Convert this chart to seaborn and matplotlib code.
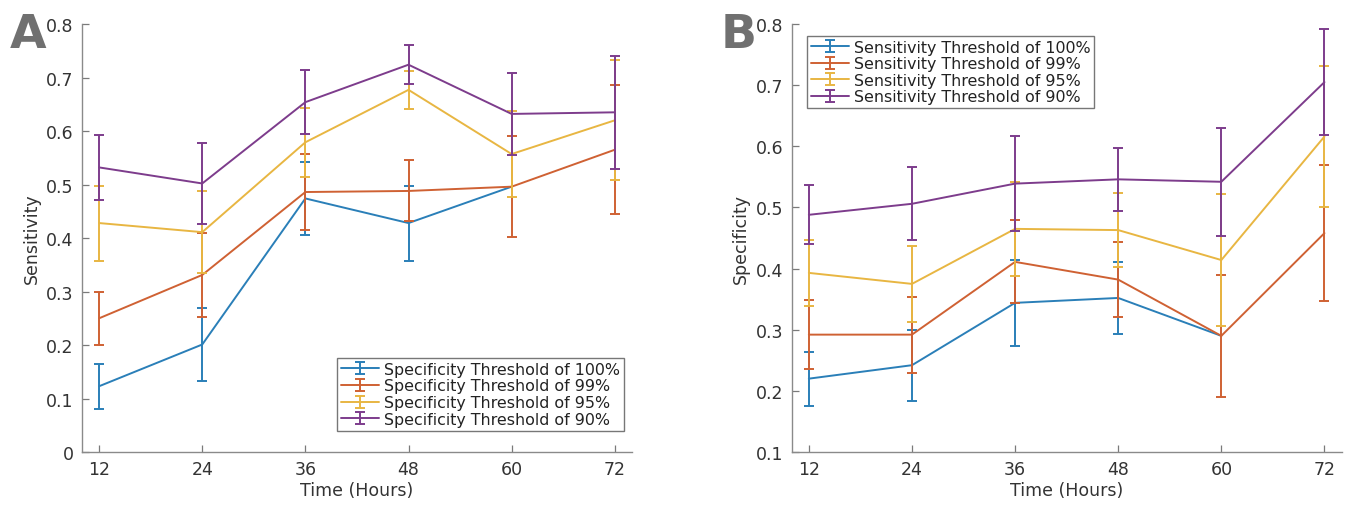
import numpy as np
import matplotlib
matplotlib.use("Agg")
import matplotlib.pyplot as plt
import seaborn as sns
from matplotlib.container import ErrorbarContainer
from matplotlib.legend_handler import HandlerTuple, HandlerErrorbar

hours = [12, 24, 36, 48, 60, 72]
nan = np.nan

# Panel A - sensitivity at fixed specificity thresholds
sens_labels = ['Specificity Threshold of 100%', 'Specificity Threshold of 99%',
               'Specificity Threshold of 95%', 'Specificity Threshold of 90%']
sens_100 = [0.123, 0.201, 0.474, 0.428, 0.496, nan]
sens_99 = [0.250, 0.331, 0.486, 0.488, 0.496, 0.565]
sens_95 = [0.428, 0.411, 0.579, 0.677, 0.557, 0.620]
sens_90 = [0.532, 0.502, 0.654, 0.724, 0.632, 0.635]
sens_100_err = [0.042, 0.068, 0.068, 0.070, nan, nan]
sens_99_err = [0.050, 0.078, 0.071, 0.057, 0.094, 0.121]
sens_95_err = [0.070, 0.076, 0.065, 0.036, 0.081, 0.112]
sens_90_err = [0.061, 0.076, 0.060, 0.036, 0.076, 0.106]

# Panel B - specificity at fixed sensitivity thresholds
spec_labels = ['Sensitivity Threshold of 100%', 'Sensitivity Threshold of 99%',
               'Sensitivity Threshold of 95%', 'Sensitivity Threshold of 90%']
spec_100 = [0.220, 0.242, 0.344, 0.352, 0.290, nan]
spec_99 = [0.292, 0.292, 0.411, 0.382, 0.290, 0.458]
spec_95 = [0.393, 0.375, 0.465, 0.463, 0.414, 0.616]
spec_90 = [0.488, 0.506, 0.539, 0.546, 0.542, 0.705]
spec_100_err = [0.044, 0.058, 0.070, 0.059, nan, nan]
spec_99_err = [0.056, 0.062, 0.068, 0.061, 0.100, 0.111]
spec_95_err = [0.054, 0.062, 0.077, 0.061, 0.108, 0.115]
spec_90_err = [0.048, 0.060, 0.078, 0.052, 0.088, 0.087]

colors = ['#2a7fb8', '#cf6133', '#e8b642', '#7d3c8c']

sns.set_theme(style="ticks")
plt.rcParams['font.family'] = ['DejaVu Sans']

fig = plt.figure(figsize=(13.5, 5.06), dpi=100)
axA = fig.add_axes([0.0607, 0.1047, 0.4074, 0.8458])
axB = fig.add_axes([0.5864, 0.1047, 0.4074, 0.8458])


def draw(ax, means, errs, labels):
    handles = []
    for m, e, lab, c in zip(means, errs, labels, colors):
        sns.lineplot(x=hours, y=m, color=c, linewidth=1.4, ax=ax, legend=False)
        line = ax.lines[-1]
        eb = ax.errorbar(hours, m, yerr=e, fmt='none', ecolor=c, elinewidth=1.4,
                         capsize=3.5, capthick=1.4)
        handles.append((line, eb))
    return handles


hA = draw(axA, [sens_100, sens_99, sens_95, sens_90],
          [sens_100_err, sens_99_err, sens_95_err, sens_90_err], sens_labels)
hB = draw(axB, [spec_100, spec_99, spec_95, spec_90],
          [spec_100_err, spec_99_err, spec_95_err, spec_90_err], spec_labels)

for ax in (axA, axB):
    ax.set_xlim(10, 74)
    ax.set_xticks(hours)
    ax.set_xlabel('Time (Hours)', fontsize=12.5, color='#333333', labelpad=2)
    ax.tick_params(direction='in', length=5, width=0.9, colors='#7a7a7a',
                   labelcolor='#333333', labelsize=12.5, pad=6)
    for s in ('top', 'right'):
        ax.spines[s].set_visible(False)
    for s in ('left', 'bottom'):
        ax.spines[s].set_color('#8a8a8a')
        ax.spines[s].set_linewidth(1.0)

axA.set_ylim(0, 0.8)
axA.set_yticks(np.arange(0, 0.81, 0.1))
axA.set_yticklabels(['0', '0.1', '0.2', '0.3', '0.4', '0.5', '0.6', '0.7', '0.8'])
axA.set_ylabel('Sensitivity', fontsize=12.5, color='#333333', labelpad=4)

axB.set_ylim(0.1, 0.8)
axB.set_yticks(np.arange(0.1, 0.81, 0.1))
axB.set_yticklabels(['0.1', '0.2', '0.3', '0.4', '0.5', '0.6', '0.7', '0.8'])
axB.set_ylabel('Specificity', fontsize=12.5, color='#333333', labelpad=4)

hmap = {tuple: HandlerTuple(ndivide=1),
        ErrorbarContainer: HandlerErrorbar(xerr_size=0.38, yerr_size=0.38)}
leg_kw = dict(handler_map=hmap, fontsize=11.4, frameon=True, fancybox=False,
              edgecolor='#777777', framealpha=1, handlelength=2.4,
              handletextpad=0.3, labelspacing=0.1, borderpad=0.25,
              borderaxespad=0)
legA = axA.legend(hA, sens_labels, loc='lower right', bbox_to_anchor=(0.985, 0.05),
                  **leg_kw)
legB = axB.legend(hB, spec_labels, loc='upper left', bbox_to_anchor=(0.028, 0.973),
                  **leg_kw)
for leg in (legA, legB):
    leg.get_frame().set_linewidth(1.0)
    for t in leg.get_texts():
        t.set_color('#222222')

fig.text(0.007, 0.905, 'A', fontsize=34, color='#707070', fontweight='bold')
fig.text(0.534, 0.905, 'B', fontsize=34, color='#707070', fontweight='bold')

fig.savefig('out.png', dpi=100)
